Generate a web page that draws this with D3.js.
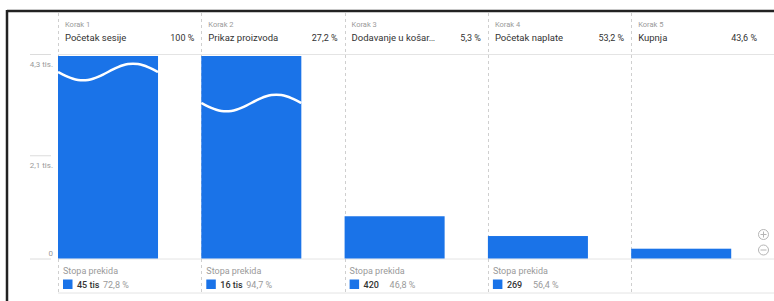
<!DOCTYPE html>
<html>
<head>
<meta charset="utf-8">
<script src="https://cdn.jsdelivr.net/npm/d3@7"></script>
<style>
  body { margin: 0; background: #fff; }
  svg { display: block; font-family: Roboto, "Noto Sans", sans-serif; }
</style>
</head>
<body>
<svg class="svg-funnel" width="774" height="301"></svg>
<script>
const steps = ['Korak 1', 'Korak 2', 'Korak 3', 'Korak 4', 'Korak 5'];
const stepNames = ['Početak sesije', 'Prikaz proizvoda', 'Dodavanje u košar…', 'Početak naplate', 'Kupnja'];
const stepRates = ['100 %', '27,2 %', '5,3 %', '53,2 %', '43,6 %'];
const users = [61800, 16800, 897, 477, 208];
const dropCounts = ['45 tis', '16 tis', '420', '269', null];
const dropRates = ['72,8 %', '94,7 %', '46,8 %', '56,4 %', null];
const yTicks = [0, 2150, 4300];
const yTickLabels = ['0', '2,1 tis.', '4,3 tis.'];

const svg = d3.select('.svg-funnel');
const blue = '#1a73e8';
const frameTop = 12, headLine = 54.5, baseY = 258.5, footBottom = 293;

const x = d3.scaleBand().domain(steps).range([58, 774.5]);
const yMax = d3.max(yTicks);
const y = d3.scaleLinear().domain([0, yMax]).range([baseY, 56]);
const barW = x.bandwidth() * 0.698;

// frame
svg.append('line').attr('x1', 7).attr('x2', 774).attr('y1', 11).attr('y2', 11)
  .attr('stroke', '#222').attr('stroke-width', 2.5);
svg.append('line').attr('x1', 7).attr('x2', 7).attr('y1', 10).attr('y2', 301)
  .attr('stroke', '#222').attr('stroke-width', 2.5);

// horizontal rules
[headLine, baseY + 0.5, footBottom].forEach(yy => {
  svg.append('line').attr('x1', 58).attr('x2', 774).attr('y1', yy).attr('y2', yy)
    .attr('stroke', '#e4e4e4').attr('stroke-width', 1);
});

// column separators
svg.selectAll('.sep').data(steps).enter().append('line')
  .attr('class', 'sep')
  .attr('x1', d => Math.round(x(d)) + 0.5).attr('x2', d => Math.round(x(d)) + 0.5)
  .attr('y1', frameTop + 1).attr('y2', footBottom)
  .attr('stroke', '#cfcfcf').attr('stroke-dasharray', '3,3');

// y axis ticks
const yAxis = svg.append('g').attr('class', 'axis axis--y');
yTicks.forEach((t, i) => {
  const yy = t === 0 ? y(t) + 0.5 : y(t) - 1.5;
  yAxis.append('line').attr('x1', 30).attr('x2', 51).attr('y1', yy).attr('y2', yy)
    .attr('stroke', '#dcdcdc');
  yAxis.append('text')
    .attr('x', 53).attr('y', t === 0 ? y(t) - 5 : y(t) + 8)
    .attr('dy', '0.35em').attr('text-anchor', 'end')
    .attr('font-size', 8).attr('fill', '#9a9a9a')
    .text(yTickLabels[i]);
});

// header
const head = svg.append('g').attr('class', 'header');
steps.forEach((s, i) => {
  const cx = x(s);
  const right = Math.min(cx + x.bandwidth() - 7, 757);
  head.append('text').attr('x', cx + 7).attr('y', 24).attr('dy', '0.35em')
    .attr('font-size', 7.5).attr('fill', '#9a9a9a').text(s);
  head.append('text').attr('x', cx + 7).attr('y', 38).attr('dy', '0.35em')
    .attr('font-size', 9.5).attr('fill', '#333').text(stepNames[i]);
  head.append('text').attr('x', right).attr('y', 38).attr('dy', '0.35em')
    .attr('text-anchor', 'end')
    .attr('font-size', 9).attr('fill', '#333').text(stepRates[i]);
});

// bars
const bars = svg.append('g').attr('class', 'bars');
bars.selectAll('rect').data(users).enter().append('rect')
  .attr('x', (d, i) => x(steps[i]))
  .attr('y', d => y(Math.min(d, yMax)))
  .attr('width', barW)
  .attr('height', d => baseY - y(Math.min(d, yMax)))
  .attr('fill', blue);

// break waves on clipped bars
const waveOffsets = [16, 47];
const wave = d3.line().curve(d3.curveBasis).x(p => p[0]).y(p => p[1]);
users.forEach((u, i) => {
  if (u <= yMax) return;
  const bx = x(steps[i]);
  const cy = y(yMax) + waveOffsets[i];
  const pts = d3.range(0, 1.0001, 0.05).map(t => [bx + t * barW, cy + 8.5 * Math.sin(2 * Math.PI * t)]);
  bars.append('path').attr('d', wave(pts))
    .attr('fill', 'none').attr('stroke', '#fff').attr('stroke-width', 2.5);
});

// footer
const foot = svg.append('g').attr('class', 'footer');
steps.forEach((s, i) => {
  if (dropCounts[i] === null) return;
  const cx = x(s);
  foot.append('text').attr('x', cx + 5).attr('y', 271).attr('dy', '0.35em')
    .attr('font-size', 9).attr('fill', '#9a9a9a').text('Stopa prekida');
  foot.append('rect').attr('x', cx + 5).attr('y', 279.5).attr('width', 9.5).attr('height', 9.5)
    .attr('fill', blue);
  const val = foot.append('text').attr('x', cx + 19).attr('y', 284.5).attr('dy', '0.35em')
    .attr('font-size', 9).attr('font-weight', 500).attr('fill', '#333').text(dropCounts[i]);
  const end = cx + 19 + val.node().getComputedTextLength();
  foot.append('text').attr('x', Math.max(cx + 45, end + 0.5)).attr('y', 284.5).attr('dy', '0.35em')
    .attr('font-size', 9).attr('fill', '#9a9a9a').text(dropRates[i]);
});

// zoom buttons
const zb = svg.append('g').attr('class', 'zoom-buttons');
[[234.5, true], [250, false]].forEach(([cy, plus]) => {
  zb.append('circle').attr('cx', 763.5).attr('cy', cy).attr('r', 5)
    .attr('fill', 'none').attr('stroke', '#b5b5b5').attr('stroke-width', 1);
  zb.append('line').attr('x1', 760.5).attr('x2', 766.5).attr('y1', cy).attr('y2', cy)
    .attr('stroke', '#b5b5b5');
  if (plus) zb.append('line').attr('x1', 763.5).attr('x2', 763.5).attr('y1', cy - 3).attr('y2', cy + 3)
    .attr('stroke', '#b5b5b5');
});
</script>
</body>
</html>
